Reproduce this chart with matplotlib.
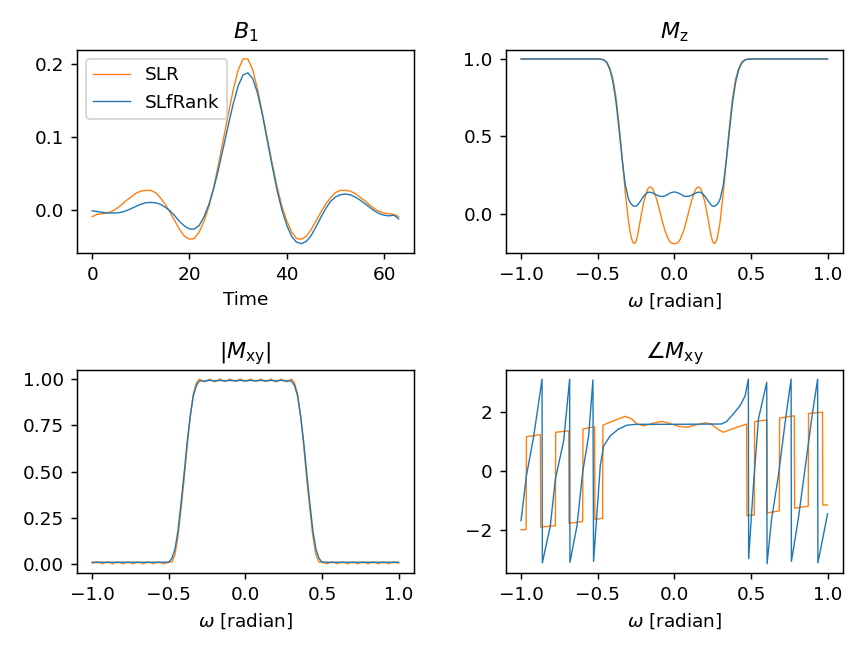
import matplotlib
matplotlib.use('Agg')
import matplotlib.pyplot as plt
import numpy as np

# B1 pulse (64 time samples)
b1_slr = [-0.009, -0.006, -0.005, -0.004, -0.002, 0.002, 0.007, 0.013, 0.018, 0.023,
          0.026, 0.027, 0.027, 0.024, 0.017, 0.008, -0.003, -0.015, -0.027, -0.036,
          -0.040, -0.039, -0.030, -0.015, 0.005, 0.032, 0.064, 0.098, 0.132, 0.165,
          0.192, 0.207, 0.207, 0.192, 0.165, 0.132, 0.098, 0.064, 0.032, 0.005,
          -0.015, -0.030, -0.039, -0.040, -0.036, -0.027, -0.015, -0.003, 0.008, 0.017,
          0.024, 0.027, 0.027, 0.026, 0.023, 0.018, 0.013, 0.007, 0.002, -0.002,
          -0.004, -0.005, -0.006, -0.009]
b1_slfrank = [-0.001, -0.002, -0.003, -0.004, -0.004, -0.004, -0.003, -0.001, 0.002, 0.005,
              0.008, 0.010, 0.0105, 0.010, 0.008, 0.004, -0.001, -0.008, -0.016, -0.022,
              -0.026, -0.026, -0.021, -0.009, 0.008, 0.030, 0.057, 0.087, 0.117, 0.146,
              0.170, 0.185, 0.188, 0.180, 0.160, 0.130, 0.095, 0.060, 0.027, 0.000,
              -0.021, -0.036, -0.044, -0.046, -0.043, -0.035, -0.023, -0.010, 0.002, 0.012,
              0.018, 0.021, 0.022, 0.021, 0.018, 0.014, 0.009, 0.004, -0.001, -0.005,
              -0.007, -0.008, -0.007, -0.012]

# Mz profile
w_mz = [-1.0, -0.50, -0.48, -0.46, -0.44, -0.42, -0.40, -0.38, -0.36, -0.34, -0.32,
        -0.30, -0.29, -0.28, -0.27, -0.26, -0.25, -0.24, -0.22, -0.20, -0.18,
        -0.17, -0.16, -0.15, -0.14, -0.13, -0.12, -0.10, -0.08, -0.06, -0.04,
        -0.03, -0.02, -0.01, 0.00, 0.01, 0.02, 0.03,
        0.04, 0.06, 0.08, 0.10, 0.12, 0.13, 0.14, 0.15, 0.16, 0.17,
        0.18, 0.20, 0.22, 0.24, 0.25, 0.26, 0.27, 0.28, 0.29, 0.30,
        0.32, 0.34, 0.36, 0.38, 0.40, 0.42, 0.44, 0.46, 0.48, 0.50, 1.0]
mz_slr = [1.0, 1.000, 0.999, 0.995, 0.98, 0.94, 0.87, 0.75, 0.57, 0.36, 0.14,
          -0.04, -0.105, -0.155, -0.183, -0.19, -0.178, -0.14, -0.03, 0.075, 0.145,
          0.167, 0.175, 0.172, 0.16, 0.138, 0.11, 0.04, -0.04, -0.11, -0.16,
          -0.177, -0.186, -0.19, -0.191, -0.19, -0.186, -0.177,
          -0.16, -0.11, -0.04, 0.04, 0.11, 0.138, 0.16, 0.172, 0.175, 0.167,
          0.145, 0.075, -0.03, -0.14, -0.178, -0.19, -0.183, -0.155, -0.105, -0.04,
          0.14, 0.36, 0.57, 0.75, 0.87, 0.94, 0.98, 0.995, 0.999, 1.000, 1.0]
mz_slfrank = [1.0, 1.000, 0.999, 0.993, 0.975, 0.93, 0.85, 0.72, 0.54, 0.35, 0.19,
              0.10, 0.078, 0.063, 0.054, 0.05, 0.051, 0.058, 0.085, 0.115, 0.135,
              0.14, 0.141, 0.139, 0.135, 0.13, 0.125, 0.116, 0.113, 0.117, 0.128,
              0.134, 0.138, 0.141, 0.142, 0.141, 0.138, 0.134,
              0.128, 0.117, 0.113, 0.116, 0.125, 0.13, 0.135, 0.139, 0.141, 0.14,
              0.135, 0.115, 0.085, 0.058, 0.051, 0.05, 0.054, 0.063, 0.078, 0.10,
              0.19, 0.35, 0.54, 0.72, 0.85, 0.93, 0.975, 0.993, 0.999, 1.000, 1.0]

# |Mxy| profile
w_mxy = [-1.0, -0.967, -0.933, -0.9, -0.867, -0.833, -0.8, -0.767, -0.733, -0.7,
         -0.667, -0.633, -0.6, -0.567, -0.533, -0.5,
         -0.48, -0.46, -0.44, -0.42, -0.40, -0.38, -0.36, -0.34, -0.32, -0.30,
         -0.267, -0.233, -0.2, -0.167, -0.133, -0.1, -0.067, -0.033, 0.0,
         0.033, 0.067, 0.1, 0.133, 0.167, 0.2, 0.233, 0.267,
         0.30, 0.32, 0.34, 0.36, 0.38, 0.40, 0.42, 0.44, 0.46, 0.48,
         0.5, 0.533, 0.567, 0.6, 0.633, 0.667, 0.7, 0.733, 0.767, 0.8,
         0.833, 0.867, 0.9, 0.933, 0.967, 1.0]
mxy_slr = [0.004, 0.012, 0.001, 0.012, 0.001, 0.012, 0.001, 0.012, 0.001, 0.012,
           0.001, 0.012, 0.001, 0.012, 0.001, 0.010,
           0.01, 0.05, 0.15, 0.30, 0.46, 0.64, 0.80, 0.92, 0.98, 1.0,
           0.985, 1.0, 0.985, 1.0, 0.987, 1.0, 0.988, 1.0, 0.988,
           1.0, 0.988, 1.0, 0.987, 1.0, 0.985, 1.0, 0.985,
           1.0, 0.98, 0.92, 0.80, 0.64, 0.46, 0.30, 0.15, 0.05, 0.01,
           0.010, 0.001, 0.012, 0.001, 0.012, 0.001, 0.012, 0.001, 0.012, 0.001,
           0.012, 0.001, 0.012, 0.001, 0.012, 0.004]
mxy_slfrank = [0.010, 0.008, 0.010, 0.008, 0.010, 0.008, 0.010, 0.008, 0.010, 0.008,
               0.010, 0.008, 0.010, 0.008, 0.010, 0.010,
               0.03, 0.08, 0.18, 0.33, 0.49, 0.66, 0.80, 0.91, 0.965, 0.99,
               0.99, 0.993, 0.99, 0.993, 0.99, 0.993, 0.99, 0.993, 0.99,
               0.993, 0.99, 0.993, 0.99, 0.993, 0.99, 0.993, 0.99,
               0.99, 0.965, 0.91, 0.80, 0.66, 0.49, 0.33, 0.18, 0.08, 0.03,
               0.010, 0.010, 0.008, 0.010, 0.008, 0.010, 0.008, 0.010, 0.008, 0.010,
               0.008, 0.010, 0.008, 0.010, 0.008, 0.010]

# phase of Mxy
w_ph_slr = [-1.0, -0.967, -0.965, -0.874, -0.872, -0.776, -0.774, -0.689, -0.687,
            -0.598, -0.596, -0.52, -0.518, -0.468, -0.466, -0.396, -0.32, -0.277,
            -0.244, -0.2, -0.135, -0.08, -0.03, 0.03, 0.08, 0.14, 0.2, 0.24, 0.28,
            0.32, 0.375, 0.472, 0.474, 0.522, 0.524, 0.603, 0.605, 0.685, 0.687,
            0.783, 0.785, 0.874, 0.876, 0.967, 0.969, 1.0]
ph_slr = [-2.0, -1.99, 1.15, 1.22, -1.91, -1.86, 1.30, 1.35, -1.78,
          -1.72, 1.41, 1.49, -1.65, -1.61, 1.54, 1.69, 1.84, 1.75,
          1.58, 1.52, 1.61, 1.67, 1.60, 1.50, 1.47, 1.55, 1.62, 1.58, 1.42,
          1.30, 1.41, 1.58, -1.52, -1.50, 1.66, 1.72, -1.43, -1.36, 1.78,
          1.86, -1.27, -1.20, 1.94, 1.98, -1.16, -1.16]

w_ph_slfrank = [-1.0, -0.965, -0.917, -0.863, -0.861, -0.809, -0.776, -0.722, -0.683,
                -0.681, -0.635, -0.598, -0.559, -0.531, -0.527, -0.483, -0.461, -0.418,
                -0.364, -0.309, -0.25, 0.0, 0.307, 0.34, 0.375, 0.429, 0.462, 0.483,
                0.485, 0.516, 0.549, 0.603, 0.605, 0.635, 0.679, 0.726, 0.762,
                0.764, 0.809, 0.853, 0.896, 0.935, 0.937, 1.0]
ph_slfrank = [-1.69, -0.17, 1.18, 3.10, -3.12, -1.86, -0.28, 1.01, 3.10,
              -3.10, -1.86, -0.05, 1.18, 3.07, -3.07, 0.17, 0.84, 1.18,
              1.41, 1.54, 1.57, 1.57, 1.58, 1.66, 1.86, 2.20, 2.53, 3.10,
              -2.98, -0.51, 1.75, 2.99, -3.15, -1.63, -0.17, 1.75, 3.10,
              -3.07, -1.63, 0.06, 1.75, 3.10, -3.12, -1.46]

t = np.arange(len(b1_slr))
lw = 0.75
c_slr = 'C1'
c_slf = 'C0'

fig, axs = plt.subplots(2, 2, figsize=(854/133, 646/133), dpi=133)
plt.subplots_adjust(left=0.090, right=0.987, top=0.923, bottom=0.113,
                    wspace=0.272, hspace=0.576)

ax = axs[0, 0]
ax.plot(t, b1_slr, color=c_slr, lw=lw, label='SLR')
ax.plot(t, b1_slfrank, color=c_slf, lw=lw, label='SLfRank')
ax.set_title(r'$B_1$')
ax.set_xlabel('Time')
ax.legend(loc='upper left')

ax = axs[0, 1]
ax.plot(w_mz, mz_slr, color=c_slr, lw=lw)
ax.plot(w_mz, mz_slfrank, color=c_slf, lw=lw)
ax.set_title(r'$M_\mathrm{z}$')
ax.set_xlabel(r'$\omega$ [radian]')

ax = axs[1, 0]
ax.plot(w_mxy, mxy_slr, color=c_slr, lw=lw)
ax.plot(w_mxy, mxy_slfrank, color=c_slf, lw=lw)
ax.set_title(r'$|M_\mathrm{xy}|$')
ax.set_xlabel(r'$\omega$ [radian]')

ax = axs[1, 1]
ax.plot(w_ph_slr, ph_slr, color=c_slr, lw=lw)
ax.plot(w_ph_slfrank, ph_slfrank, color=c_slf, lw=lw)
ax.set_title(r'$\angle M_\mathrm{xy}$')
ax.set_xlabel(r'$\omega$ [radian]')

plt.savefig('out.png', dpi=133)
